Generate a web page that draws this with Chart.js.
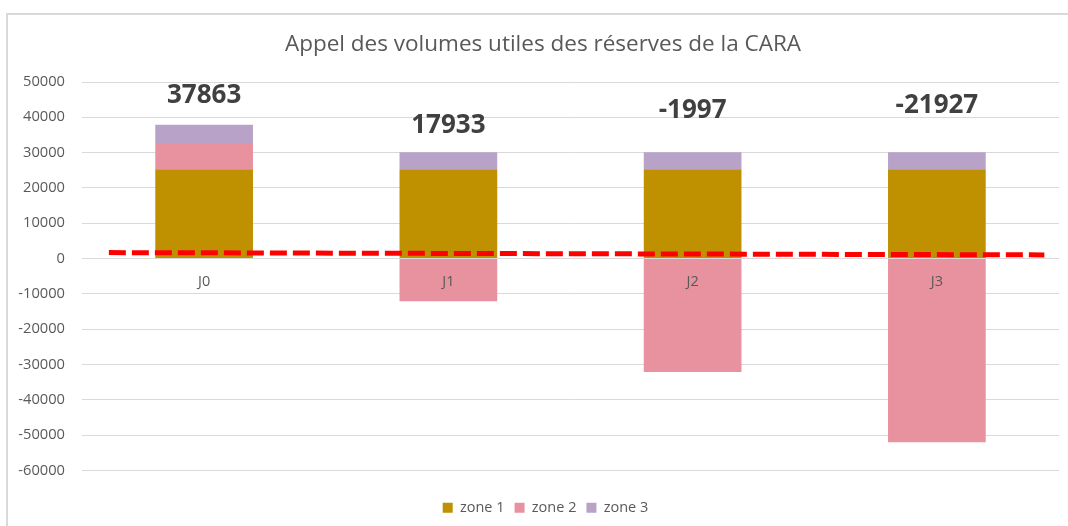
<!DOCTYPE html>
<html lang="fr">
<head>
<meta charset="utf-8">
<title>Appel des volumes utiles des réserves de la CARA</title>
<script src="https://cdn.jsdelivr.net/npm/chart.js@4.4.1/dist/chart.umd.min.js"></script>
<style>
  html, body { margin: 0; padding: 0; background: #fff; }
  #wrap { position: relative; width: 1068px; height: 526px; overflow: hidden; }
  #frame { position: absolute; left: 6px; top: 13px; right: -10px; bottom: -10px;
           border-left: 2px solid #d9d9d9; border-top: 2px solid #d9d9d9; }
  #wrap canvas { position: absolute; left: 0; top: 0; }
</style>
</head>
<body>
<div id="wrap">
  <div id="frame"></div>
  <canvas id="chart"></canvas>
</div>
<script>
// Données
const categories = ['J0', 'J1', 'J2', 'J3'];
const zone1 = [25300, 25300, 25300, 25300];
const zone2 = [7400, -12100, -32100, -52000];
const zone3 = [5200, 4800, 4800, 4800];
const totals = [37863, 17933, -1997, -21927];

// seuil en pointillés rouges (lu aux deux extrémités)
const seuilX = [-0.39, 3.44];
const seuilY = [1700, 1050];

const FONT = '"Open Sans", "Liberation Sans", sans-serif';

// Titre et légende centrés sur le cadre d'origine (le graphique est rogné à droite)
const cadrage = {
  id: 'cadrage',
  afterLayout(chart, args, opts) {
    if (chart.legend) {
      chart.legend.left += opts.legendShift;
      chart.legend.right += opts.legendShift;
    }
  },
  afterDraw(chart, args, opts) {
    const { ctx } = chart;
    ctx.save();
    ctx.font = '22.5px ' + FONT;
    ctx.fillStyle = '#595959';
    ctx.textAlign = 'center';
    ctx.textBaseline = 'middle';
    ctx.fillText(opts.text, opts.x, opts.y);
    ctx.restore();
  }
};

// Étiquettes : catégories le long du zéro et totaux au-dessus des barres
const etiquettes = {
  id: 'etiquettes',
  afterDatasetsDraw(chart, args, opts) {
    const { ctx, scales: { x, y } } = chart;
    ctx.save();
    ctx.textAlign = 'center';

    ctx.font = '14.5px ' + FONT;
    ctx.fillStyle = '#595959';
    ctx.textBaseline = 'middle';
    categories.forEach((c, i) => {
      ctx.fillText(c, x.getPixelForValue(i), y.getPixelForValue(0) + 23);
    });

    ctx.font = 'bold 26px ' + FONT;
    ctx.fillStyle = '#404040';
    ctx.textBaseline = 'alphabetic';
    const haut = chart.getDatasetMeta(2).data;
    totals.forEach((t, i) => {
      ctx.fillText(String(t), x.getPixelForValue(i), haut[i].y - opts.offsets[i] + 9);
    });
    ctx.restore();
  }
};

const ctx = document.getElementById('chart').getContext('2d');
new Chart(ctx, {
  type: 'bar',
  data: {
    labels: categories,
    datasets: [
      { label: 'zone 1', data: zone1, backgroundColor: '#bf9000', stack: 'zones', order: 1 },
      { label: 'zone 2', data: zone2, backgroundColor: '#e8929f', stack: 'zones', order: 1 },
      { label: 'zone 3', data: zone3, backgroundColor: '#b9a2c7', stack: 'zones', order: 1 },
      {
        type: 'line',
        label: 'seuil',
        data: seuilX.map((v, i) => ({ x: v, y: seuilY[i] })),
        xAxisID: 'x2',
        borderColor: '#ff0000',
        borderWidth: 5,
        borderDash: [17, 6],
        borderCapStyle: 'butt',
        pointRadius: 0,
        fill: false,
        order: 0
      }
    ]
  },
  options: {
    responsive: true,
    maintainAspectRatio: false,
    animation: false,
    layout: { padding: { left: 0, right: 9, top: 82, bottom: 1 } },
    datasets: {
      bar: { barPercentage: 0.4, categoryPercentage: 1.0, borderWidth: 0, grouped: false }
    },
    scales: {
      x: {
        stacked: true,
        grid: { display: false },
        border: { display: false },
        ticks: { display: false },
        afterFit: s => { s.height = 20; }
      },
      x2: { type: 'linear', min: -0.5, max: 3.5, offset: false, display: false },
      y: {
        stacked: true,
        min: -60000,
        max: 50000,
        border: { display: false },
        grid: { color: '#d9d9d9', lineWidth: 1, drawTicks: false },
        ticks: {
          stepSize: 10000,
          padding: 17,
          color: '#595959',
          font: { family: FONT, size: 14.7 },
          callback: v => String(v)
        },
        afterFit: s => { s.width = 82; }
      }
    },
    plugins: {
      title: { display: false },
      legend: {
        position: 'bottom',
        labels: {
          boxWidth: 10,
          boxHeight: 10,
          padding: 10,
          color: '#595959',
          font: { family: FONT, size: 14.5 },
          filter: item => item.datasetIndex < 3
        }
      },
      tooltip: { enabled: false },
      cadrage: {
        text: 'Appel des volumes utiles des réserves de la CARA',
        x: 543, y: 45, legendShift: 16
      },
      etiquettes: { offsets: [31, 28, 43, 48] }
    }
  },
  plugins: [cadrage, etiquettes]
});
</script>
</body>
</html>
